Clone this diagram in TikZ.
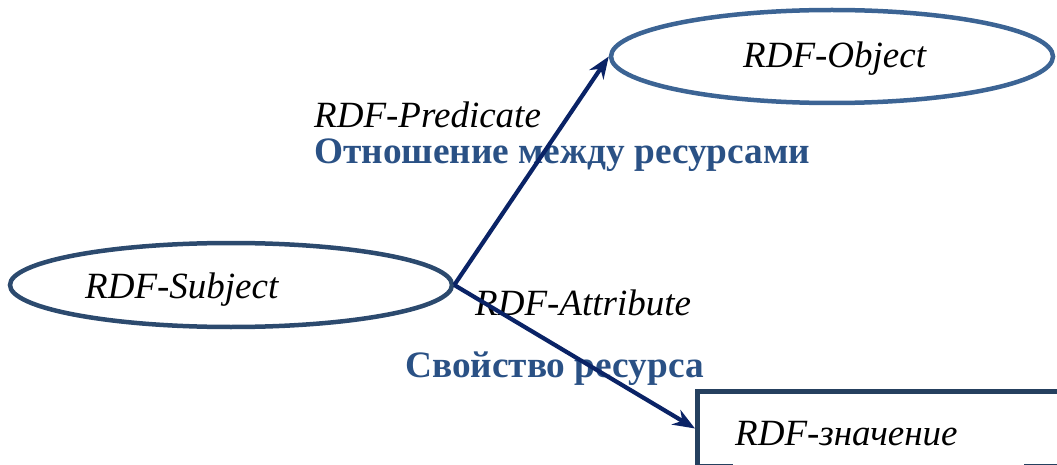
\documentclass[tikz,border=0pt]{standalone}
\usepackage{fontspec}
\setmainfont{Liberation Serif}
\usetikzlibrary{arrows.meta,shapes.geometric}
\definecolor{objline}{HTML}{3C6494}
\definecolor{subjline}{HTML}{2C4A6E}
\definecolor{boxline}{HTML}{25405F}
\definecolor{arrowcol}{HTML}{0A2366}
\definecolor{captioncol}{HTML}{2A5185}
\tikzset{
  entity/.style={ellipse, draw, line width=4.5pt, inner sep=0pt},
  rdflabel/.style={anchor=base west, inner sep=0pt, font=\fontsize{37}{40}\selectfont\itshape},
  caption/.style={anchor=base west, inner sep=0pt, text=captioncol, font=\fontsize{37.3}{40}\selectfont\bfseries},
  link/.style={draw=arrowcol, line width=4.2pt, -{Stealth[length=22pt,width=17pt]}}
}
\begin{document}
\begin{tikzpicture}[x=1pt,y=-1pt]
\useasboundingbox (0,0) rectangle (1057,465);
% resources
\node[entity, draw=objline, minimum width=442pt, minimum height=93pt] (obj) at (832,56.5) {};
\node[entity, draw=subjline, minimum width=442pt, minimum height=84pt] (subj) at (231,285) {};
\node[draw=boxline, line width=4.5pt, rectangle, inner sep=0pt, anchor=north west,
      minimum width=400pt, minimum height=74.5pt] (valbox) at (695,389) {};
% value text, its white ground breaks the lower edge of the box
\node[anchor=base west, fill=white, inner xsep=2pt, inner ysep=0pt, text height=30pt, text depth=24pt,
      font=\fontsize{37}{40}\selectfont\itshape] (val) at (733,445) {\makebox[287pt][l]{RDF-значение}};
% labels
\node[rdflabel] (objt) at (743,68) {RDF-Object};
\node[rdflabel] (subjt) at (85,298) {RDF-Subject};
\node[rdflabel] (pred) at (314,128) {RDF-Predicate};
\node[caption] (predc) at (314,164) {Отношение между ресурсами};
\node[rdflabel] (attr) at (475,315) {RDF-Attribute};
\node[caption] (attrc) at (405,377) {Свойство ресурса};
% links
\draw[link] (subj.east) -- (obj.west);
\draw[link] (subj.east) -- (valbox.west);
\end{tikzpicture}
\end{document}
